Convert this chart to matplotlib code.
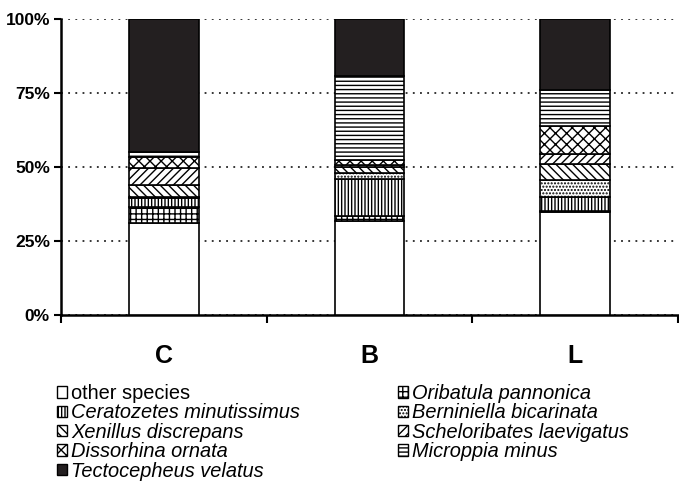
import matplotlib
matplotlib.use('Agg')
import matplotlib.pyplot as plt
import numpy as np
from matplotlib.patches import Patch

plt.rcParams['font.family'] = ['Liberation Sans', 'DejaVu Sans']
plt.rcParams['hatch.linewidth'] = 1.0

# ---- data (percent of community, stacked bottom -> top) ----
categories = ['C', 'B', 'L']
other_species = [31.0, 31.7, 34.8]
oribatula_pannonica = [5.5, 1.7, 0.5]
ceratozetes_minutissimus = [3.0, 12.5, 4.7]
berniniella_bicarinata = [0.5, 2.0, 5.5]
xenillus_discrepans = [4.0, 2.0, 5.5]
scheloribates_laevigatus = [5.5, 0.8, 3.5]
dissorhina_ornata = [4.0, 1.5, 9.5]
microppia_minus = [1.5, 28.6, 12.0]
tectocepheus_velatus = [45.0, 19.2, 24.0]

yticks = [0, 25, 50, 75, 100]
ytick_labels = ['0%', '25%', '50%', '75%', '100%']

series = [
    ('other species', other_species, 'white', None),
    ('Oribatula pannonica', oribatula_pannonica, 'white', '+++'),
    ('Ceratozetes minutissimus', ceratozetes_minutissimus, 'white', '|||||'),
    ('Berniniella bicarinata', berniniella_bicarinata, 'white', '.....'),
    ('Xenillus discrepans', xenillus_discrepans, 'white', '\\\\\\\\'),
    ('Scheloribates laevigatus', scheloribates_laevigatus, 'white', '////'),
    ('Dissorhina ornata', dissorhina_ornata, 'white', 'xxx'),
    ('Microppia minus', microppia_minus, 'white', '----'),
    ('Tectocepheus velatus', tectocepheus_velatus, '#231f20', None),
]

W, H = 679, 484
fig = plt.figure(figsize=(W / 100, H / 100), dpi=100)
ax = fig.add_axes([61 / W, 1 - 315 / H, 617 / W, 296 / H])

x = np.arange(len(categories))
bottom = np.zeros(len(categories))
handles = {}
for name, vals, fc, hatch in series:
    vals = np.asarray(vals, dtype=float)
    ax.bar(x, vals, width=0.34, bottom=bottom, color=fc, edgecolor='black',
           hatch=hatch, linewidth=1.2, zorder=3)
    bottom += vals
    handles[name] = Patch(facecolor=fc, edgecolor='black', hatch=hatch, linewidth=1.0)

ax.set_xlim(-0.5, 2.5)
ax.set_ylim(0, 100)
ax.set_yticks(yticks, ytick_labels, fontsize=12.5, fontweight='bold')
ax.set_xticks(x, categories, fontsize=18, fontweight='bold')
ax.set_xticks([-0.5, 0.5, 1.5, 2.5], minor=True)
ax.tick_params(axis='x', which='major', length=0, pad=21)
ax.tick_params(axis='x', which='minor', length=6, width=1.5, direction='out')
ax.tick_params(axis='y', length=5, width=1.5, direction='out', pad=3)

ax.yaxis.grid(True, linestyle=(0, (1.2, 3.5)), color='black', linewidth=1.1)
ax.set_axisbelow(True)
for s in ['top', 'right']:
    ax.spines[s].set_visible(False)
for s in ['left', 'bottom']:
    ax.spines[s].set_linewidth(1.8)

legend_order = ['other species', 'Ceratozetes minutissimus', 'Xenillus discrepans',
                'Dissorhina ornata', 'Tectocepheus velatus',
                'Oribatula pannonica', 'Berniniella bicarinata',
                'Scheloribates laevigatus', 'Microppia minus']
leg = fig.legend([handles[n] for n in legend_order], legend_order, ncol=2,
                 loc='upper left', bbox_to_anchor=(57 / W, 1 - 384 / H),
                 frameon=False, fontsize=14.4, handlelength=0.5, handleheight=0.5,
                 handletextpad=0.2, labelspacing=0.02, columnspacing=4.9,
                 borderpad=0, borderaxespad=0)
for i, t in enumerate(leg.get_texts()):
    if i != 0:
        t.set_fontstyle('italic')

fig.savefig('out.png', dpi=100)
